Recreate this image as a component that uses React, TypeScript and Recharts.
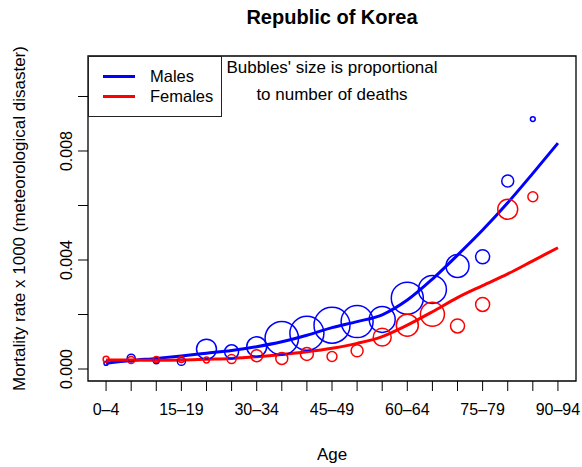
import React from "react";
import {
  ComposedChart,
  Line,
  Scatter,
  XAxis,
  YAxis,
  Legend,
  ReferenceArea,
} from "recharts";

// Age groups (five-year bands)
const ageGroups = [
  "0–4", "5–9", "10–14", "15–19", "20–24", "25–29", "30–34", "35–39", "40–44",
  "45–49", "50–54", "55–59", "60–64", "65–69", "70–74", "75–79", "80–84",
  "85–89", "90–94",
];

// Observed mortality rates per age group (no deaths recorded at 90–94)
const maleRate = [
  0.00021, 0.0004, 0.0003, 0.00028, 0.00073, 0.00063, 0.00082, 0.00113,
  0.00131, 0.00161, 0.00174, 0.00182, 0.0026, 0.00292, 0.00378, 0.00412,
  0.0069, 0.00917,
];
const femaleRate = [
  0.00036, 0.00033, 0.00035, 0.00035, 0.00033, 0.00037, 0.00049, 0.00039,
  0.00055, 0.00046, 0.00067, 0.00117, 0.00161, 0.00201, 0.00158, 0.00237,
  0.00586, 0.00632,
];

// Number of deaths behind each rate
const maleDeaths = [3, 11, 6, 11, 69, 34, 69, 194, 201, 225, 178, 117, 178, 136, 92, 34, 25, 4];
const femaleDeaths = [6, 9, 6, 6, 6, 14, 25, 25, 29, 17, 25, 56, 84, 100, 34, 34, 69, 17];

// Smoothed trend per age group
const maleTrend = [
  0.00021, 0.00031, 0.00039, 0.00048, 0.00058, 0.00068, 0.00082, 0.001,
  0.00124, 0.00152, 0.00174, 0.00199, 0.00253, 0.0033, 0.00418, 0.0051,
  0.0061, 0.00718, 0.00829,
];
const femaleTrend = [
  0.00033, 0.00033, 0.00032, 0.00033, 0.00036, 0.00039, 0.00045, 0.00053,
  0.00063, 0.00076, 0.00094, 0.00119, 0.00161, 0.0021, 0.00262, 0.00306,
  0.00349, 0.00397, 0.00445,
];

const seriesOrder = ["Males", "Females"];
const yTicks = [0, 0.002, 0.004, 0.006, 0.008, 0.01];
const yLabelled = [0, 0.004, 0.008];

const BLUE = "#0000ff";
const RED = "#ff0000";
const FONT = "'Liberation Sans', Arial, Helvetica, sans-serif";

const trendData = ageGroups.map((_, i) => ({ x: i, male: maleTrend[i], female: femaleTrend[i] }));
const maleBubbles = maleRate.map((v, i) => ({ x: i, y: v, deaths: maleDeaths[i] }));
const femaleBubbles = femaleRate.map((v, i) => ({ x: i, y: v, deaths: femaleDeaths[i] }));

// bubble area proportional to number of deaths
const bubbleRadius = (deaths: number) => 1.2 * Math.sqrt(deaths);

const bubble = (color: string) => (props: any) => {
  const { cx, cy, payload } = props;
  if (cx == null || cy == null) return null;
  return (
    <circle
      cx={cx}
      cy={cy}
      r={bubbleRadius(payload.deaths)}
      fill="none"
      stroke={color}
      strokeWidth={1.5}
    />
  );
};

const YTick = (props: any) => {
  const { x, y, payload } = props;
  if (!yLabelled.includes(payload.value)) return null;
  return (
    <text
      x={x}
      y={y}
      transform={`rotate(-90 ${x} ${y})`}
      textAnchor="middle"
      fontSize={16}
      fontFamily={FONT}
      fill="#000"
    >
      {payload.value.toFixed(3)}
    </text>
  );
};

const LegendBox = (props: any) => {
  const items = (props.payload || [])
    .filter((p: any) => seriesOrder.includes(p.value))
    .sort((a: any, b: any) => seriesOrder.indexOf(a.value) - seriesOrder.indexOf(b.value));
  return (
    <div
      style={{
        width: 134,
        height: 61,
        boxSizing: "border-box",
        border: "1.5px solid #222",
        background: "#fff",
        fontFamily: FONT,
        fontSize: 16.5,
        color: "#000",
        paddingTop: 9,
      }}
    >
      {items.map((p: any) => (
        <div key={p.value} style={{ display: "flex", alignItems: "center", height: 20 }}>
          <span
            style={{ display: "inline-block", width: 32, height: 3, background: p.color, marginLeft: 14 }}
          />
          <span style={{ marginLeft: 15 }}>{p.value}</span>
        </div>
      ))}
    </div>
  );
};

export default function App() {
  return (
    <div style={{ position: "absolute", left: 0, top: 0, width: 582, height: 467, background: "#fff", fontFamily: FONT }}>
      <div
        style={{
          position: "absolute",
          left: 88,
          width: 488,
          top: 5,
          textAlign: "center",
          fontSize: 20,
          fontWeight: "bold",
          lineHeight: "24px",
        }}
      >
        Republic of Korea
      </div>
      <ComposedChart
        width={582}
        height={467}
        data={trendData}
        margin={{ top: 56, right: 6, bottom: 0, left: 0 }}
      >
        <XAxis
          type="number"
          dataKey="x"
          domain={[-0.72, 18.72]}
          ticks={ageGroups.map((_, i) => i)}
          interval={0}
          allowDataOverflow
          height={86}
          axisLine={false}
          tickLine={{ stroke: "#000" }}
          tickSize={10}
          tickMargin={13}
          tick={{ fill: "#000", fontSize: 16, fontFamily: FONT }}
          tickFormatter={(v: number) => (v % 3 === 0 ? ageGroups[v] : "")}
          label={{ value: "Age", position: "insideBottom", offset: 7, fill: "#000", fontSize: 17, fontFamily: FONT }}
        />
        <YAxis
          type="number"
          domain={[-0.00044, 0.011486]}
          ticks={yTicks}
          interval={0}
          allowDataOverflow
          width={88}
          axisLine={false}
          tickLine={{ stroke: "#000" }}
          tickSize={10}
          tickMargin={6}
          tick={<YTick />}
          label={{
            value: "Mortality rate x 1000 (meteorological disaster)",
            angle: -90,
            position: "insideLeft",
            offset: 19,
            fill: "#000",
            fontSize: 17,
            fontFamily: FONT,
            style: { textAnchor: "middle" },
          }}
        />
        <ReferenceArea
          x1={-0.72}
          x2={18.72}
          y1={-0.00044}
          y2={0.011486}
          ifOverflow="visible"
          fill="none"
          stroke="#000"
          strokeWidth={1.3}
        />
        <Scatter data={maleBubbles} dataKey="y" legendType="none" shape={bubble(BLUE)} isAnimationActive={false} />
        <Scatter data={femaleBubbles} dataKey="y" legendType="none" shape={bubble(RED)} isAnimationActive={false} />
        <Line
          type="monotone"
          dataKey="male"
          name="Males"
          stroke={BLUE}
          strokeWidth={3}
          dot={false}
          activeDot={false}
          isAnimationActive={false}
        />
        <Line
          type="monotone"
          dataKey="female"
          name="Females"
          stroke={RED}
          strokeWidth={3}
          dot={false}
          activeDot={false}
          isAnimationActive={false}
        />
        <Legend
          layout="horizontal"
          verticalAlign="middle"
          align="center"
          content={<LegendBox />}
          wrapperStyle={{ left: 88, top: 56, width: 134, height: 61 }}
        />
      </ComposedChart>
      <div
        style={{
          position: "absolute",
          left: 88,
          width: 488,
          top: 54,
          textAlign: "center",
          fontSize: 17,
          lineHeight: "27px",
        }}
      >
        <div>Bubbles' size is proportional</div>
        <div>to number of deaths</div>
      </div>
    </div>
  );
}
